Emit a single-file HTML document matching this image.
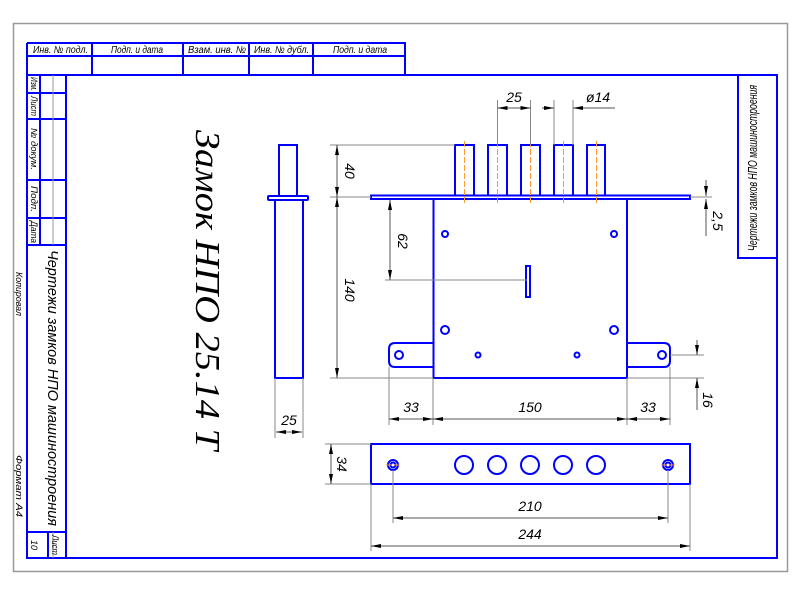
<!DOCTYPE html>
<html><head><meta charset="utf-8"><style>
html,body{margin:0;padding:0;background:#fff;}
svg{display:block;}
text{font-family:"Liberation Sans","DejaVu Sans",sans-serif;font-style:italic;fill:#000;}
</style></head><body>
<svg width="800" height="600" viewBox="0 0 800 600" xmlns="http://www.w3.org/2000/svg">
<defs>
<marker id="a" viewBox="0 0 10 4" refX="10" refY="2" markerWidth="10" markerHeight="4" orient="auto-start-reverse" markerUnits="userSpaceOnUse"><path d="M0,0 L10,2 L0,4 z" fill="#000"/></marker>
</defs>
<rect x="0" y="0" width="800" height="600" fill="#fff"/>
<rect x="13.5" y="23.5" width="774" height="548" fill="none" stroke="#999" stroke-width="1.5"/>
<g fill="none" stroke="#0000ff" stroke-width="2">
<path d="M27,75 H777 V558 H27 Z"/>
<path d="M27,43 H405 V75 M27,43 V75 M27,56 H405 M92,43 V75 M183,43 V75 M249,43 V75 M313,43 V75"/>
<path d="M66,75 V558 M40,75 V245 M27,93 H66 M27,119 H66 M27,180 H66 M27,218 H66 M27,245 H66 M27,532 H66 M48,532 V558"/>
<path d="M738,75 V258 H777"/>
</g>
<path d="M53,75 V245 M53,532 V558" stroke="#999" stroke-width="1"/>
<g font-size="10">
<text x="33" y="53" textLength="55" lengthAdjust="spacingAndGlyphs">Инв. № подл.</text>
<text x="111" y="53" textLength="52" lengthAdjust="spacingAndGlyphs">Подп. и дата</text>
<text x="188" y="53" textLength="58" lengthAdjust="spacingAndGlyphs">Взам. инв. №</text>
<text x="254" y="53" textLength="55" lengthAdjust="spacingAndGlyphs">Инв. № дубл.</text>
<text x="333" y="53" textLength="54" lengthAdjust="spacingAndGlyphs">Подп. и дата</text>
</g>
<g font-size="9">
<text transform="translate(31,77) rotate(90)" textLength="14" lengthAdjust="spacingAndGlyphs">Изм.</text>
<text transform="translate(31,96) rotate(90)" textLength="20" lengthAdjust="spacingAndGlyphs">Лист</text>
<text transform="translate(31,128) rotate(90)" textLength="42" lengthAdjust="spacingAndGlyphs">№ докум.</text>
<text transform="translate(31,186) rotate(90)" textLength="26" lengthAdjust="spacingAndGlyphs">Подп.</text>
<text transform="translate(31,221) rotate(90)" textLength="22" lengthAdjust="spacingAndGlyphs">Дата</text>
<text transform="translate(52,535) rotate(90)" textLength="20" lengthAdjust="spacingAndGlyphs">Лист</text>
<text transform="translate(31,540) rotate(90)">10</text>
<text transform="translate(16,272) rotate(90)" textLength="44" lengthAdjust="spacingAndGlyphs">Копировал</text>
<text transform="translate(16,455) rotate(90)" textLength="62" lengthAdjust="spacingAndGlyphs">Формат    А4</text>
</g>
<text transform="translate(48,250) rotate(90)" font-size="15" textLength="276" lengthAdjust="spacingAndGlyphs">Чертежи замков НПО машиностроения</text>
<text transform="translate(757,251) rotate(-90)" font-size="12.5" textLength="166" lengthAdjust="spacingAndGlyphs">Чертежи замков НПО машиностроения</text>
<text transform="translate(196,130) rotate(90)" font-size="35" textLength="320" lengthAdjust="spacingAndGlyphs" style="font-family:'Liberation Serif',serif">Замок НПО 25.14 Т</text>

<g fill="none" stroke="#0000ff" stroke-width="2">
<path d="M279,196 V145 H297 V196"/>
<rect x="268" y="196" width="40" height="4" rx="1"/>
<rect x="275" y="200" width="28" height="178"/>
<rect x="371" y="195.5" width="319" height="3.5"/>
<rect x="433.5" y="199" width="193.5" height="179"/>
<path d="M455,196 V145 H474 V196 M488,196 V145 H507 V196 M521,196 V145 H540 V196 M554,196 V145 H573 V196 M587,196 V145 H605 V196"/>
<path d="M433,343 H395 Q389,343 389,349 V361 Q389,367 395,367 H433"/>
<path d="M627,343 H664 Q670,343 670,349 V361 Q670,367 664,367 H627"/>
<circle cx="399" cy="355" r="4"/>
<circle cx="662" cy="355" r="4"/>
<circle cx="445" cy="234" r="3"/>
<circle cx="614" cy="234" r="3"/>
<circle cx="445" cy="330" r="4"/>
<circle cx="614" cy="330" r="4"/>
<circle cx="478" cy="355" r="2.5"/>
<circle cx="577" cy="355" r="2.5"/>
<path d="M526,266 H530 V297 H526 Z" stroke-width="2"/>
<rect x="371" y="444" width="319" height="40"/>
<circle cx="464" cy="465" r="9"/>
<circle cx="497" cy="465" r="9"/>
<circle cx="530" cy="465" r="9"/>
<circle cx="563" cy="465" r="9"/>
<circle cx="596" cy="465" r="9"/>
<circle cx="393" cy="465" r="5"/>
<circle cx="393" cy="465" r="2.5"/>
<circle cx="668" cy="465" r="5"/>
<circle cx="668" cy="465" r="2.5"/>
</g>
<g stroke="#ff9933" stroke-width="1" stroke-dasharray="6,2">
<path d="M464.5,141 V204 M497.5,141 V204 M530.5,141 V204 M563.5,141 V204 M596.5,141 V204"/>
<path d="M386,465 H400 M661,465 H675"/>
</g>
<g stroke="#888" stroke-width="1" fill="none">
<path d="M330,145 H455 M330,197 H371 M330,378 H433 M385,280 H527"/>
<path d="M497.5,100 V145 M530.5,100 V145 M554,100 V145 M573,100 V145"/>
<path d="M275,378 V438 M303,378 V438"/>
<path d="M389,367 V425 M433,378 V425 M627,378 V425 M670,367 V425"/>
<path d="M670,355 H704 M627,378 H704 M690,197 H712"/>
<path d="M325,444 H371 M325,484 H371"/>
<path d="M393,470 V523 M668,470 V523 M371,484 V551 M690,484 V551"/>
</g>
<g stroke="#555" stroke-width="1" fill="none" marker-start="url(#a)" marker-end="url(#a)">
<path d="M337,145 V197"/>
<path d="M337,197 V378"/>
<path d="M390,200 V280"/>
<path d="M497.5,108 H530.5"/>
<path d="M276,432 H302"/>
<path d="M389,419 H433"/>
<path d="M433,419 H627"/>
<path d="M627,419 H670"/>
<path d="M331,444 V484"/>
<path d="M393,518 H668"/>
<path d="M371,546 H690"/>
</g>
<g stroke="#555" stroke-width="1" fill="none">
<path d="M542,108 H554" marker-end="url(#a)"/>
<path d="M573,108 H615" marker-start="url(#a)"/>
<path d="M706,180 V196" marker-end="url(#a)"/>
<path d="M706,236 V199" marker-end="url(#a)"/>
<path d="M697,340 V355" marker-end="url(#a)"/>
<path d="M697,410 V378" marker-end="url(#a)"/>
</g>
<g font-size="14">
<text x="514" y="102" text-anchor="middle">25</text>
<text x="598" y="102" text-anchor="middle">ø14</text>
<text transform="translate(345,171) rotate(90)" text-anchor="middle">40</text>
<text transform="translate(345,290) rotate(90)" text-anchor="middle">140</text>
<text transform="translate(398,241) rotate(90)" text-anchor="middle">62</text>
<text transform="translate(713,221) rotate(90)" text-anchor="middle">2,5</text>
<text transform="translate(703,400) rotate(90)" text-anchor="middle">16</text>
<text x="289" y="425" text-anchor="middle">25</text>
<text x="411" y="412" text-anchor="middle">33</text>
<text x="530" y="412" text-anchor="middle">150</text>
<text x="648" y="412" text-anchor="middle">33</text>
<text transform="translate(337,464) rotate(90)" text-anchor="middle">34</text>
<text x="530" y="511" text-anchor="middle">210</text>
<text x="530" y="539" text-anchor="middle">244</text>
</g>
</svg>
</body></html>
